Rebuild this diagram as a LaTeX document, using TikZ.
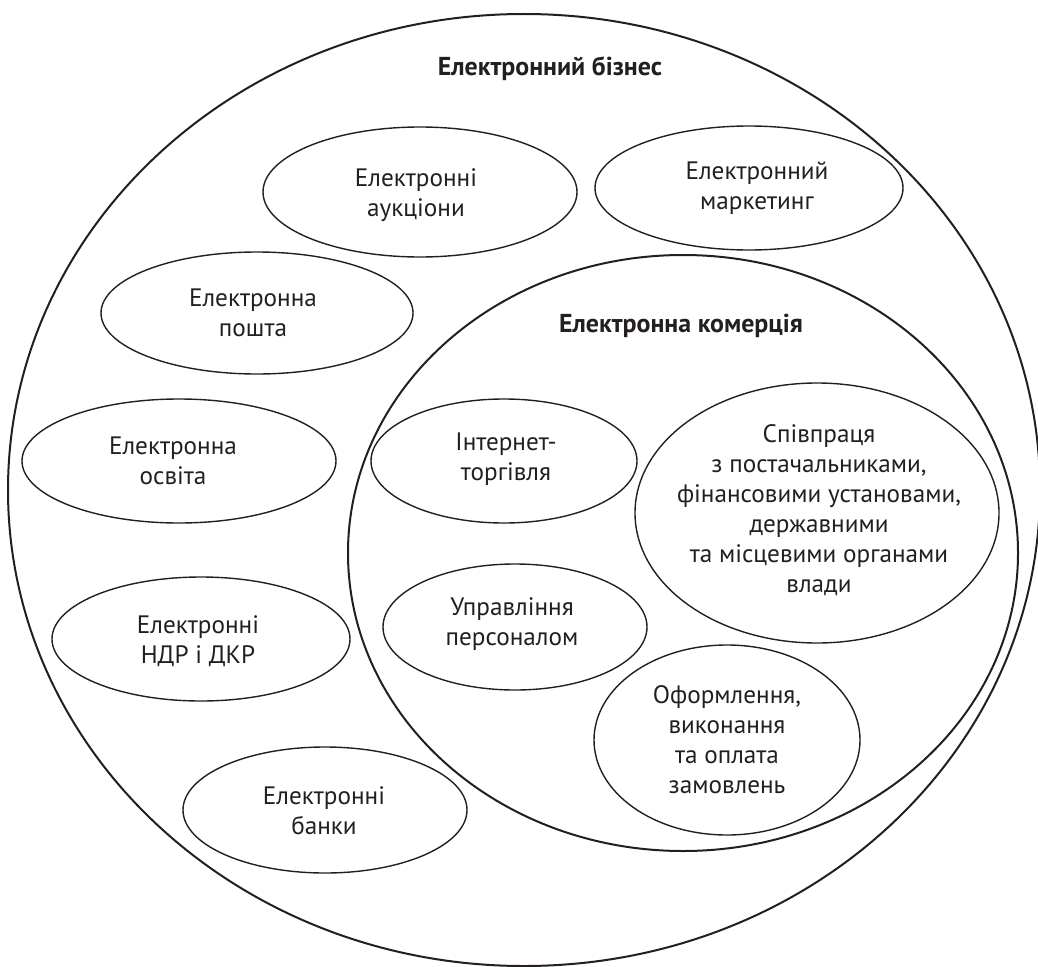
\documentclass[tikz,border=0pt]{standalone}
\usepackage{fontspec}
\setmainfont{PT Sans}
\usetikzlibrary{shapes.geometric}
\definecolor{ink}{HTML}{231F20}
\newlength\mwA \newlength\mwB \newlength\mwC \newlength\mwD \newlength\mwE
\begin{document}
\settowidth\mwA{\fontsize{10}{12}\selectfont Електронний}%
\settowidth\mwB{\fontsize{10}{12}\selectfont фінансовими установами,}%
\settowidth\mwC{\fontsize{10}{12}\selectfont Електронні}%
\settowidth\mwD{\fontsize{10}{12}\selectfont\bfseries Електронний бізнес}%
\settowidth\mwE{\fontsize{10}{12}\selectfont\bfseries Електронна комерція}%
\pgfmathsetmacro\fsreg{10*549/(\mwA+\mwB+\mwC)}%
\pgfmathsetmacro\fsbold{10*468/(\mwD+\mwE)}%
\begin{tikzpicture}[x=1pt,y=-1pt,
  bigell/.style={ellipse, draw=ink, line width=2pt, inner sep=0pt},
  itemell/.style={ellipse, draw=ink, line width=1.4pt, inner sep=0pt},
  lab/.style={align=center, text=ink, inner sep=0pt, font=\fontsize{\fsreg}{30}\selectfont},
  headlab/.style={text=ink, inner sep=0pt, font=\fontsize{\fsbold}{30}\selectfont\bfseries}]
\useasboundingbox (0,0) rectangle (1038,966);
% outer and inner circles
\node[bigell, minimum width=1032pt, minimum height=952pt] (biz) at (524,490) {};
\node[bigell, minimum width=670pt, minimum height=596pt] (kom) at (683,553) {};
\node[headlab] (biz-t) at (550,69) {Електронний бізнес};
\node[headlab] (kom-t) at (681,326) {Електронна комерція};
% e-business items
\node[itemell, minimum width=314pt, minimum height=130pt] (auk) at (420,192) {};
\node[lab] (auk-t) at (416,195) {Електронні\\аукціони};
\node[itemell, minimum width=308pt, minimum height=124pt] (mark) at (749,188) {};
\node[lab] (mark-t) at (757,188) {Електронний\\маркетинг};
\node[itemell, minimum width=312pt, minimum height=122pt] (posh) at (257,313) {};
\node[lab] (posh-t) at (253,313) {Електронна\\пошта};
\node[itemell, minimum width=314pt, minimum height=124pt] (osv) at (179,461) {};
\node[lab] (osv-t) at (173,461) {Електронна\\освіта};
\node[itemell, minimum width=298pt, minimum height=124pt] (ndr) at (201,639) {};
\node[lab] (ndr-t) at (198,641) {Електронні\\НДР і ДКР};
\node[itemell, minimum width=284pt, minimum height=126pt] (bank) at (325,810) {};
\node[lab] (bank-t) at (324,811) {Електронні\\банки};
% e-commerce items
\node[itemell, minimum width=266pt, minimum height=124pt] (inet) at (504,461) {};
\node[lab] (inet-t) at (506,459) {Інтернет-\\торгівля};
\node[itemell, minimum width=264pt, minimum height=126pt] (upr) at (515,627) {};
\node[lab] (upr-t) at (512,624) {Управління\\персоналом};
\node[itemell, minimum width=364pt, minimum height=260pt] (spiv) at (817,513) {};
\node[lab] (spiv-t) at (819,510) {Співпраця\\з постачальниками,\\фінансовими установами,\\державними\\та місцевими органами\\влади};
\node[itemell, minimum width=266pt, minimum height=190pt] (ofor) at (727,740) {};
\node[lab] (ofor-t) at (727,740) {Оформлення,\\виконання\\та оплата\\замовлень};
\end{tikzpicture}
\end{document}
